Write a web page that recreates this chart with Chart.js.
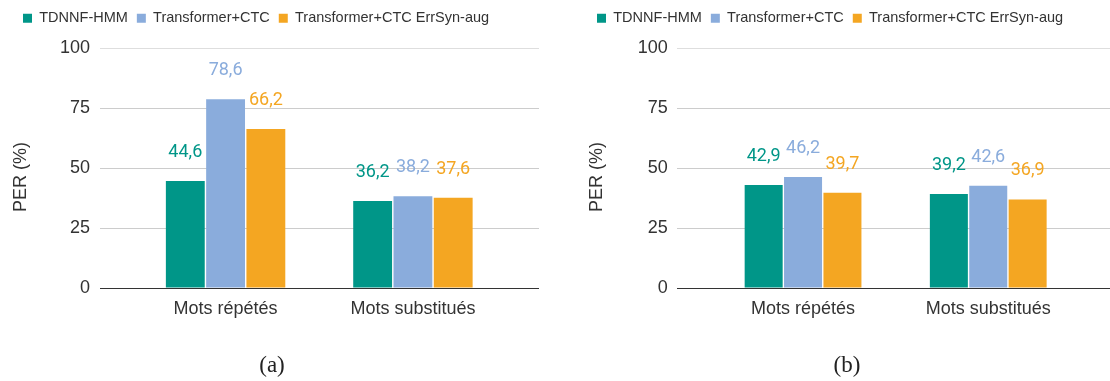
<!DOCTYPE html>
<html>
<head>
<meta charset="utf-8">
<script src="https://cdn.jsdelivr.net/npm/chart.js@4.4.0/dist/chart.umd.min.js"></script>
<style>
  html, body { margin: 0; padding: 0; background: #fff; }
  body { width: 1110px; height: 381px; overflow: hidden; position: relative; }
  .panel { position: absolute; top: 0; height: 381px; }
  .caption {
    position: absolute; top: 350px; width: 80px; margin-left: -40px;
    text-align: center; font-family: 'Liberation Serif', 'Times New Roman', serif;
    font-size: 23px; line-height: 30px; color: #222;
  }
</style>
</head>
<body>
<div class="panel" id="panelA"><canvas id="chartA"></canvas></div>
<div class="panel" id="panelB"><canvas id="chartB"></canvas></div>
<div class="caption" id="capA"></div>
<div class="caption" id="capB"></div>
<script>
// Categories, series and values (PER, %)
const categories = ['Mots répétés', 'Mots substitués'];
const seriesNames = ['TDNNF-HMM', 'Transformer+CTC', 'Transformer+CTC ErrSyn-aug'];
const perA_tdnnf = [44.6, 36.2];
const perA_transformer = [78.6, 38.2];
const perA_errsyn = [66.2, 37.6];
const perB_tdnnf = [42.9, 39.2];
const perB_transformer = [46.2, 42.6];
const perB_errsyn = [39.7, 36.9];
const yTicks = [0, 25, 50, 75, 100];
const yTitle = 'PER (%)';
const captions = ['(a)', '(b)'];

const seriesColors = ['#009688', '#8aacdc', '#f4a622'];
const textColor = '#333333';
const sansFamily = "'Liberation Sans', Arial, Helvetica, sans-serif";

// Value labels above each bar, decimal comma
const valueLabels = {
  id: 'valueLabels',
  afterDatasetsDraw(chart) {
    const ctx = chart.ctx;
    ctx.save();
    ctx.font = "18px Roboto, 'Liberation Sans', sans-serif";
    ctx.textAlign = 'center';
    ctx.textBaseline = 'alphabetic';
    chart.data.datasets.forEach((ds, i) => {
      const meta = chart.getDatasetMeta(i);
      meta.data.forEach((bar, j) => {
        ctx.fillStyle = ds.backgroundColor;
        ctx.fillText(ds.data[j].y.toFixed(1).replace('.', ','), bar.x, bar.y - 24);
      });
    });
    ctx.restore();
  }
};

// Rotated y-axis title
const axisTitle = {
  id: 'axisTitle',
  afterDraw(chart, args, opts) {
    const ctx = chart.ctx;
    ctx.save();
    ctx.translate(opts.x, opts.y);
    ctx.rotate(-Math.PI / 2);
    ctx.font = '18px ' + sansFamily;
    ctx.fillStyle = textColor;
    ctx.textAlign = 'center';
    ctx.textBaseline = 'middle';
    ctx.fillText(opts.text, 0, 0);
    ctx.restore();
  }
};

// Fixed space reserved under the legend
const legendSpace = {
  id: 'legendSpace',
  beforeInit(chart) {
    const fit = chart.legend.fit;
    chart.legend.fit = function () {
      fit.call(chart.legend);
      this.height = chart.options.plugins.legendSpace.height;
    };
  }
};

function makeChart(canvasId, panelId, capId, caption, values, geo) {
  const panel = document.getElementById(panelId);
  panel.style.left = geo.left + 'px';
  panel.style.width = geo.width + 'px';
  const cap = document.getElementById(capId);
  cap.textContent = caption;
  cap.style.left = geo.captionX + 'px';

  const datasets = seriesNames.map((name, s) => ({
    label: name,
    data: categories.map((c, i) => ({ x: i, y: values[s][i] })),
    backgroundColor: seriesColors[s],
    borderWidth: 0,
    categoryPercentage: geo.catPct,
    barPercentage: 0.965
  }));

  return new Chart(document.getElementById(canvasId), {
    type: 'bar',
    data: { datasets },
    plugins: [valueLabels, axisTitle, legendSpace],
    options: {
      responsive: true,
      maintainAspectRatio: false,
      animation: false,
      layout: { padding: { left: 14, right: 13, top: 2, bottom: 0 } },
      scales: {
        x: {
          type: 'linear',
          offset: false,
          min: -geo.margin,
          max: categories.length - 1 + geo.margin,
          afterBuildTicks(scale) { scale.ticks = categories.map((c, i) => ({ value: i })); },
          afterFit(scale) { scale.height = 93; },
          grid: { display: false, offset: false },
          border: { display: false },
          ticks: {
            padding: 2,
            autoSkip: false,
            maxRotation: 0,
            color: textColor,
            font: { family: sansFamily, size: 18 },
            callback: (v) => categories[v]
          }
        },
        y: {
          min: 0,
          max: 100,
          afterBuildTicks(scale) { scale.ticks = yTicks.map(v => ({ value: v })); },
          afterFit(scale) { scale.width = geo.axisWidth; },
          border: { display: false },
          grid: {
            drawTicks: false,
            lineWidth: 1,
            color: (c) => c.tick && c.tick.value === 0 ? '#333333' : (c.tick && c.tick.value === 100 ? '#dedede' : '#cccccc')
          },
          ticks: {
            padding: 9.5,
            color: textColor,
            font: { family: sansFamily, size: 18 }
          }
        }
      },
      plugins: {
        legendSpace: { height: 46 },
        axisTitle: { text: yTitle, x: geo.titleX, y: 177 },
        tooltip: { enabled: false },
        legend: {
          position: 'top',
          align: 'start',
          labels: {
            boxWidth: 9,
            boxHeight: 9,
            padding: 9,
            color: textColor,
            font: { family: sansFamily, size: 14.5 }
          }
        }
      }
    }
  });
}

makeChart('chartA', 'panelA', 'capA', captions[0],
  [perA_tdnnf, perA_transformer, perA_errsyn],
  { left: 0, width: 552, axisWidth: 85.5, margin: 0.673, catPct: 0.645, titleX: 21, captionX: 272 });

makeChart('chartB', 'panelB', 'capB', captions[1],
  [perB_tdnnf, perB_transformer, perB_errsyn],
  { left: 574, width: 553, axisWidth: 89.3, margin: 0.679, catPct: 0.638, titleX: 23, captionX: 847 });
</script>
</body>
</html>
